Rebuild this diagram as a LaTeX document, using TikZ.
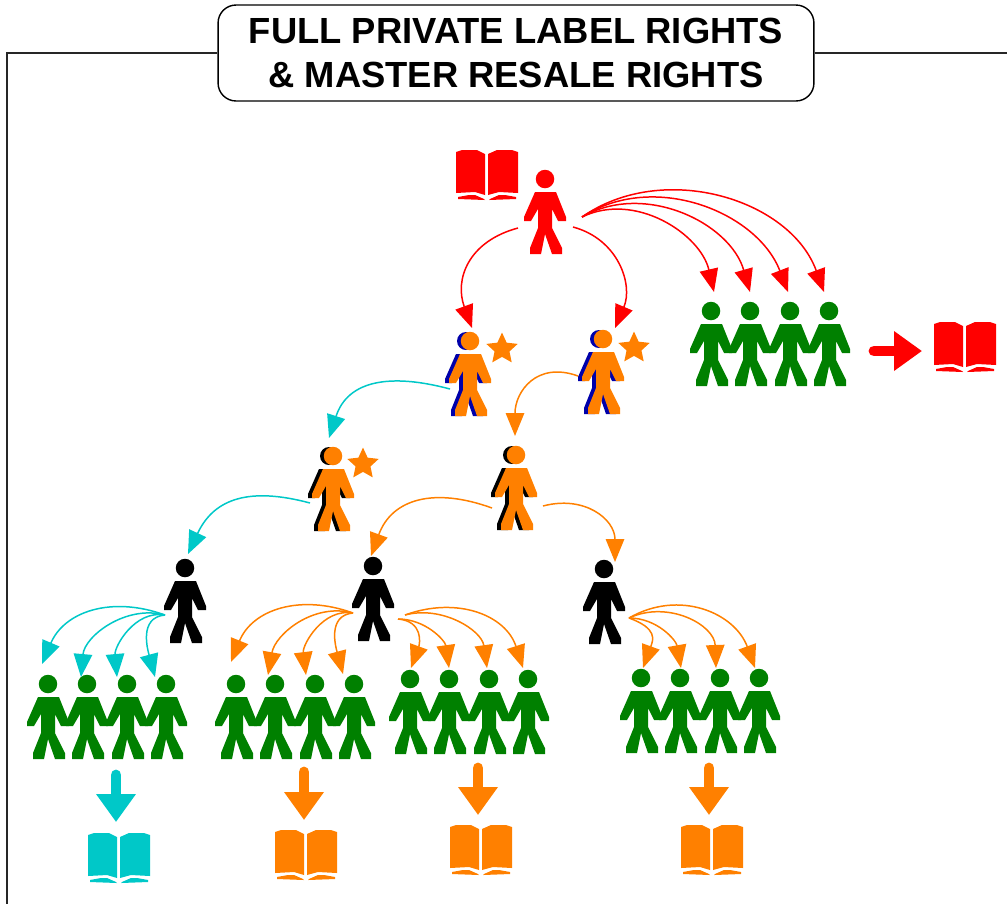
\documentclass[tikz,border=0pt]{standalone}
\usepackage{fontspec}
\setmainfont{Liberation Sans}
\usetikzlibrary{arrows.meta,shapes.geometric}
\definecolor{flowred}{HTML}{FF0000}
\definecolor{flowgreen}{HTML}{008000}
\definecolor{floworange}{HTML}{FF8000}
\definecolor{flowteal}{HTML}{00C8C8}
\definecolor{flowblue}{HTML}{0000AA}
\tikzset{
	headdot/.style={circle,inner sep=0pt,minimum size=0.37cm,fill=#1},
	bookbox/.style={rectangle,inner sep=0pt,minimum width=1.24cm,minimum height=1cm},
	award/.style={star,star points=5,star point ratio=2.1,inner sep=0pt,minimum size=0.66cm,fill=floworange},
	titlebox/.style={rectangle,rounded corners=0.36cm,draw=black,line width=0.8pt,fill=white,align=center,minimum width=11.92cm,minimum height=1.92cm,font=\bfseries\fontsize{20.7}{25.5}\selectfont},
	flow/.style={-{Triangle[length=0.46cm,width=0.37cm]},line width=0.85pt,color=#1},
	push/.style={-{Triangle[length=0.56cm,width=0.76cm]},line width=6.2pt,line cap=round,color=#1},
	framing/.style={line width=1.1pt,color=black!85}
}
\def\bodyshape#1#2#3{\fill[#1,shift={(#2,#3)}] (-10,13) -- (11,13) -- (21,38) -- (21,42) -- (13,42) -- (7,30) -- (7,49) -- (17,69) -- (17,75) -- (7,75) -- (0,55) -- (-4,75) -- (-15,75) -- (-15,69) -- (-7,49) -- (-7,30) -- (-14,42) -- (-21,42) -- (-21,38) -- cycle;}
\def\person[#1](#2,#3)(#4){\bodyshape{#1}{#2}{#3}\node[headdot=#1] (#4) at (#2,#3) {};}
\def\shadowed[#1](#2,#3)(#4){\fill[#1] (#2-4,#3) circle (9);\bodyshape{#1}{#2-4}{#3}\bodyshape{floworange}{#2}{#3}\node[headdot=floworange] (#4) at (#2,#3) {};}
\def\team(#1,#2)(#3){\person[flowgreen](#1,#2)(#3a)\person[flowgreen](#1+39,#2)(#3b)\person[flowgreen](#1+79,#2)(#3c)\person[flowgreen](#1+118,#2)(#3d)}
\def\openbook[#1](#2,#3)(#4){
	\node[bookbox] (#4) at (#2,#3) {};
	\fill[#1,shift={(#2,#3)}] (-31,-23) -- (-25,-25) -- (-10,-25) -- (-2,-21) -- (-2,20) -- (-12,17) -- (-31,18) -- cycle;
	\fill[#1,shift={(#2,#3)}] (31,-23) -- (25,-25) -- (10,-25) -- (1,-21) -- (1,20) -- (12,17) -- (31,18) -- cycle;
	\fill[#1,shift={(#2,#3)}] (-29,22) -- (-18,20) -- (-12,20) -- (-3,24) -- (-2,25) -- (-29,24) -- cycle;
	\fill[#1,shift={(#2,#3)}] (29,22) -- (18,20) -- (12,20) -- (3,24) -- (2,25) -- (29,24) -- cycle;
}

\begin{document}
\begin{tikzpicture}[x=0.02cm,y=-0.02cm]
		%%%%% START %%%%%
		\useasboundingbox (0,0) rectangle (1007,904);
		
		\coordinate (cornerleft) at (7,53);
		\coordinate (footleft) at (7,904);
		\coordinate (edgeright) at (1007,53);
		\node[titlebox] (title) at (516,53) {FULL PRIVATE LABEL RIGHTS\\\& MASTER RESALE RIGHTS};
		\draw[framing] (title.west) -- (cornerleft) -- (footleft);
		\draw[framing] (title.east) -- (edgeright);
		
		\openbook[flowred](487,175)(bookboss)
		\person[flowred](545,179)(boss)
		
		\shadowed[flowblue](470,341)(leadone)
		\node[award] (starone) at (502,349) {};
		\shadowed[flowblue](603,339)(leadtwo)
		\node[award] (startwo) at (634,348) {};
		\shadowed[black](333,456)(leadthree)
		\node[award] (starthree) at (363,464) {};
		\shadowed[black](516,455)(leadfour)
		
		\person[black](185,568)(sellerone)
		\person[black](373,566)(sellertwo)
		\person[black](604,569)(sellerthree)
		
		\team(711,311)(top)
		\team(48,684)(one)
		\team(236,684)(two)
		\team(410,679)(three)
		\team(641,678)(four)
		
		\openbook[flowred](965,347)(booktop)
		\openbook[flowteal](119,858)(bookone)
		\openbook[floworange](306,855)(booktwo)
		\openbook[floworange](481,850)(bookthree)
		\openbook[floworange](712,850)(bookfour)
		
		\draw[flow=flowred] ([shift={(-27,49)}]boss.center) to[out=195,in=110,looseness=1.2] ([shift={(2,-13)}]leadone.center);
		\draw[flow=flowred] ([shift={(28,48)}]boss.center) to[out=-15,in=67,looseness=1.1] ([shift={(12,-11)}]leadtwo.center);
		\draw[flow=flowred] ([shift={(37,38)}]boss.center) to[out=26,in=103] ([shift={(3,-19)}]topa.center);
		\draw[flow=flowred] ([shift={(37,38)}]boss.center) to[out=30,in=106] ([shift={(0,-19)}]topb.center);
		\draw[flow=flowred] ([shift={(37,38)}]boss.center) to[out=33,in=111] ([shift={(-2,-19)}]topc.center);
		\draw[flow=flowred] ([shift={(37,38)}]boss.center) to[out=35,in=110] ([shift={(-5,-19)}]topd.center);
		
		\draw[flow=flowteal] ([shift={(-20,48)}]leadone.center) to[out=165,in=72,looseness=1.2] ([shift={(-4,-18)}]leadthree.center);
		\draw[flow=floworange] ([shift={(-25,37)}]leadtwo.center) to[out=160,in=90,looseness=1.3] ([shift={(-1,-19)}]leadfour.center);
		\draw[flow=flowteal] ([shift={(-23,47)}]leadthree.center) to[out=165,in=65,looseness=1.2] ([shift={(3,-14)}]sellerone.center);
		\draw[flow=floworange] ([shift={(-24,53)}]leadfour.center) to[out=160,in=70,looseness=1.2] ([shift={(-2,-10)}]sellertwo.center);
		\draw[flow=floworange] ([shift={(27,51)}]leadfour.center) to[out=15,in=90,looseness=1.2] ([shift={(11,-7)}]sellerthree.center);
		
		\draw[flow=flowteal] ([shift={(-20,47)}]sellerone.center) to[out=160,in=67,looseness=1.1] ([shift={(-6,-20)}]onea.center);
		\draw[flow=flowteal] ([shift={(-20,47)}]sellerone.center) to[out=165,in=85] ([shift={(-6,-7)}]oneb.center);
		\draw[flow=flowteal] ([shift={(-20,47)}]sellerone.center) to[out=170,in=95] ([shift={(-10,-7)}]onec.center);
		\draw[flow=flowteal] ([shift={(-20,47)}]sellerone.center) to[out=185,in=105,looseness=1.1] ([shift={(-11,-7)}]oned.center);
		
		\draw[flow=floworange] ([shift={(-20,47)}]sellertwo.center) to[out=160,in=68,looseness=1.1] ([shift={(-5,-22)}]twoa.center);
		\draw[flow=floworange] ([shift={(-20,47)}]sellertwo.center) to[out=165,in=80] ([shift={(-7,-9)}]twob.center);
		\draw[flow=floworange] ([shift={(-20,47)}]sellertwo.center) to[out=170,in=97] ([shift={(-9,-9)}]twoc.center);
		\draw[flow=floworange] ([shift={(-20,47)}]sellertwo.center) to[out=185,in=105,looseness=1.1] ([shift={(-11,-10)}]twod.center);
		
		\draw[flow=floworange] ([shift={(25,53)}]sellertwo.center) to[out=-5,in=70,looseness=1.3] ([shift={(1,-11)}]threea.center);
		\draw[flow=floworange] ([shift={(25,53)}]sellertwo.center) to[out=0,in=98] ([shift={(0,-11)}]threeb.center);
		\draw[flow=floworange] ([shift={(32,49)}]sellertwo.center) to[out=15,in=98] ([shift={(-2,-11)}]threec.center);
		\draw[flow=floworange] ([shift={(32,49)}]sellertwo.center) to[out=20,in=108,looseness=1.1] ([shift={(-5,-11)}]threed.center);
		
		\draw[flow=floworange] ([shift={(25,49)}]sellerthree.center) to[out=-20,in=70,looseness=1.5] ([shift={(2,-10)}]foura.center);
		\draw[flow=floworange] ([shift={(25,49)}]sellerthree.center) to[out=0,in=100] ([shift={(1,-10)}]fourb.center);
		\draw[flow=floworange] ([shift={(25,49)}]sellerthree.center) to[out=25,in=92,looseness=1.1] ([shift={(-4,-10)}]fourc.center);
		\draw[flow=floworange] ([shift={(25,49)}]sellerthree.center) to[out=30,in=110,looseness=1.1] ([shift={(-4,-10)}]fourd.center);
		
		\draw[push=flowred] ([shift={(45,40)}]topd.center) -- ([shift={(-43,4)}]booktop.center);
		\draw[push=flowteal] ([shift={(29,91)}]oneb.center) -- ([shift={(-3,-36)}]bookone.center);
		\draw[push=floworange] ([shift={(29,88)}]twob.center) -- ([shift={(-2,-35)}]booktwo.center);
		\draw[push=floworange] ([shift={(29,89)}]threeb.center) -- ([shift={(-3,-35)}]bookthree.center);
		\draw[push=floworange] ([shift={(29,90)}]fourb.center) -- ([shift={(-3,-35)}]bookfour.center);
		
		%%%%% END %%%%%
	\end{tikzpicture}
\end{document}
